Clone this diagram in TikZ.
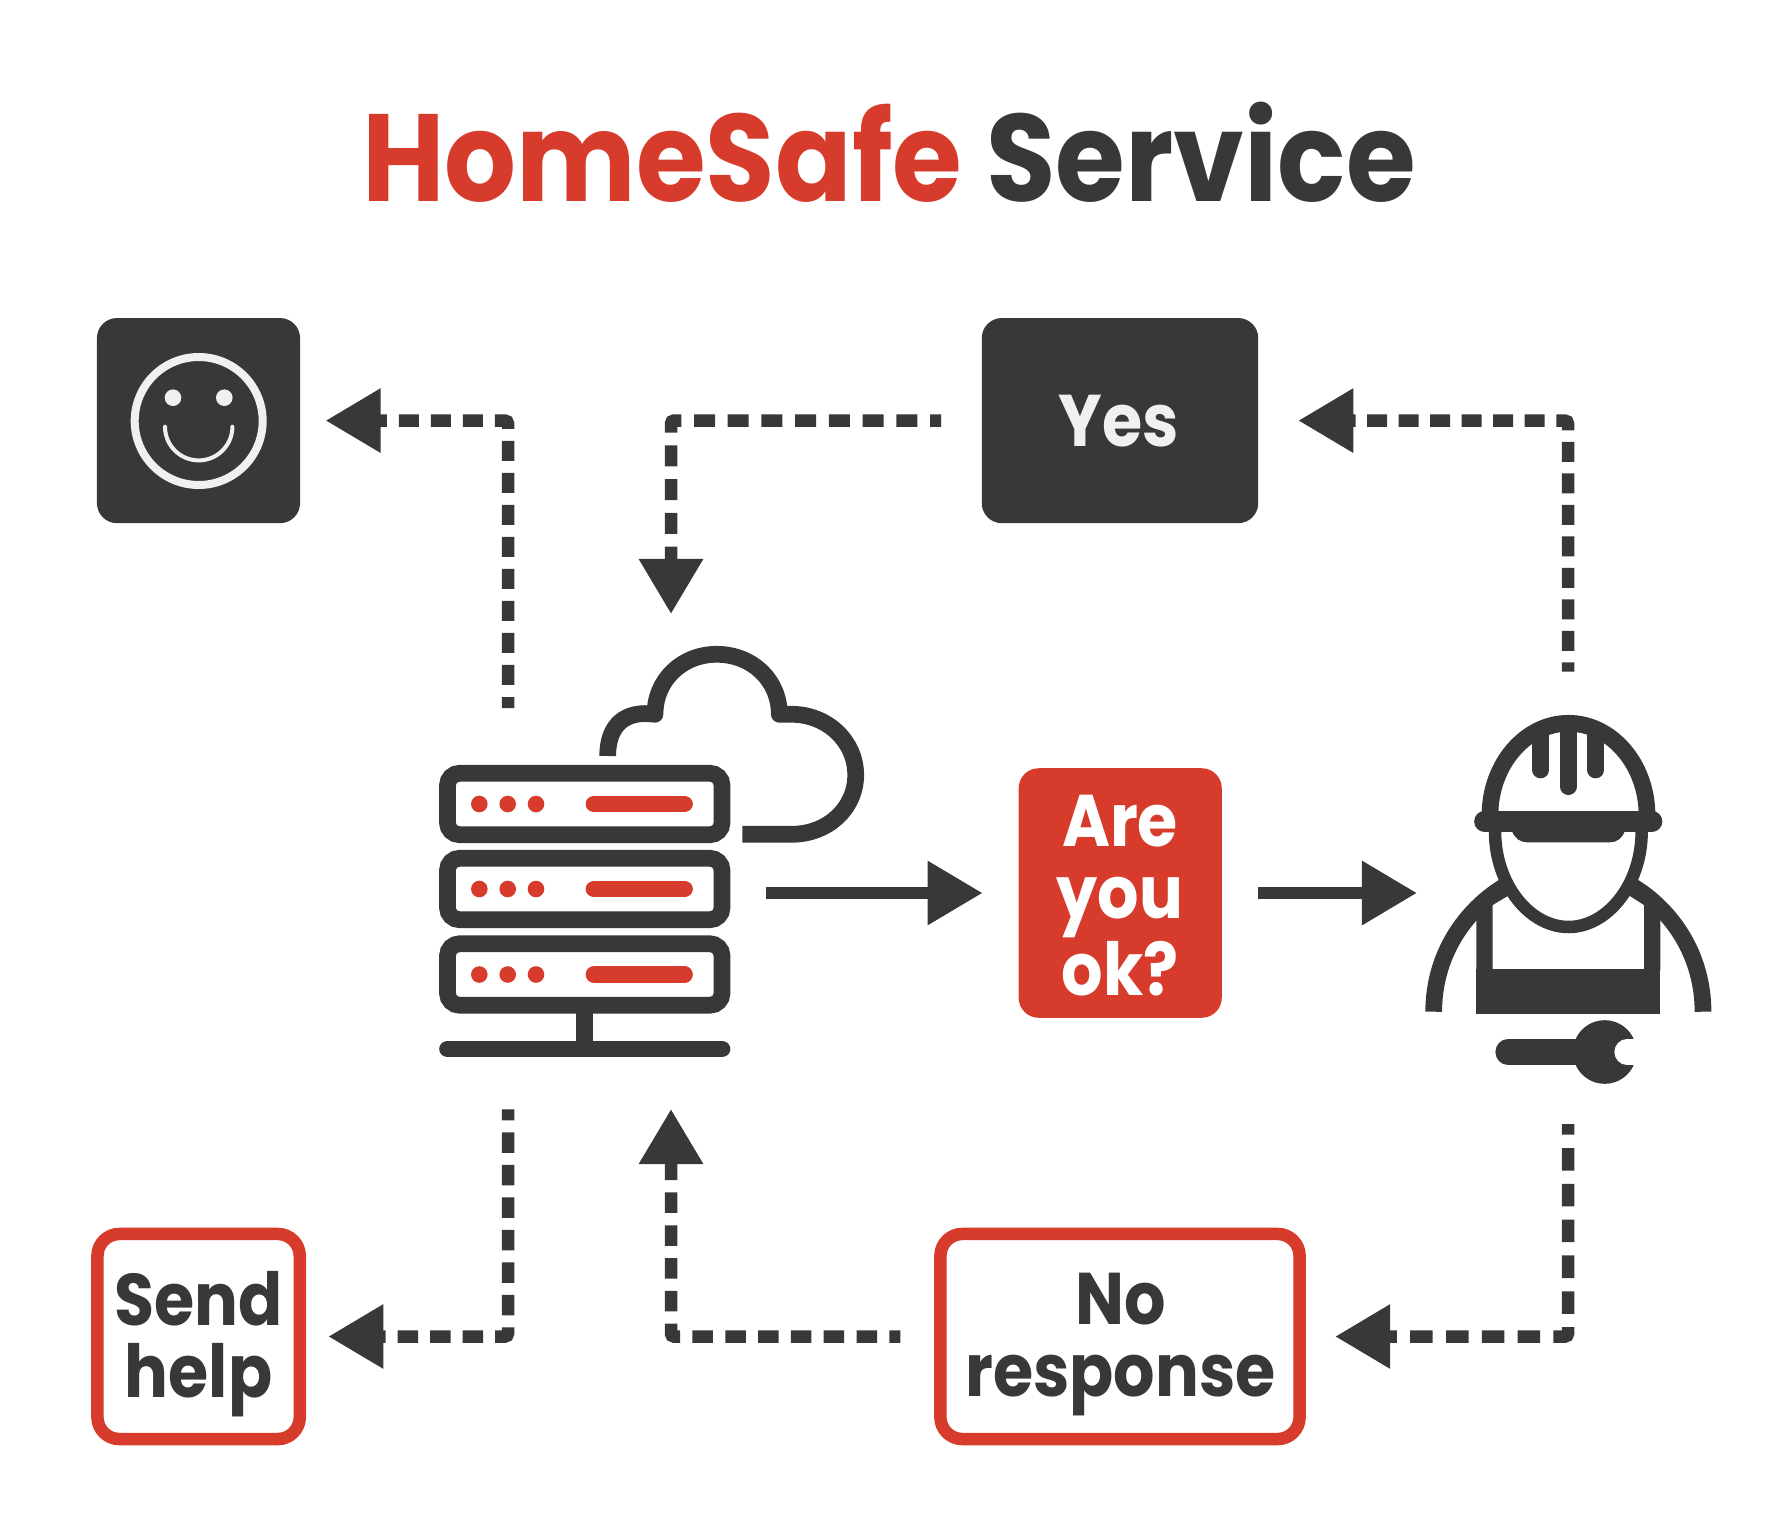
\documentclass[tikz,border=0pt]{standalone}
\usepackage{fontspec}
\setmainfont{Poppins}
\newfontfamily\hstitle[FakeStretch=0.91]{Poppins}
\newfontfamily\hsbox[FakeStretch=0.89]{Poppins}
\usepackage{xcolor}
\usetikzlibrary{arrows.meta}
\definecolor{hsred}{HTML}{D73B2C}
\definecolor{hsdark}{HTML}{383838}
\definecolor{hslight}{HTML}{EFF0F2}
\tikzset{
	iconline/.style={draw=hsdark,line width=.167cm},
	darkbox/.style={fill=hsdark,rounded corners=.2cm,outer sep=0pt,inner sep=0pt},
	redbox/.style={fill=hsred,rounded corners=.2cm,outer sep=0pt,inner sep=0pt},
	linebox/.style={draw=hsred,line width=.125cm,rounded corners=.22cm,outer sep=0pt,inner sep=0pt},
	boxtext/.style={font=\fontsize{20.8}{20.5}\selectfont\hsbox\bfseries,align=center},
	flowline/.style={draw=hsdark,line width=.125cm,-{Triangle[length=.55cm,width=.61cm]}},
	dashline/.style={flowline,rounded corners=.03cm},
}
% one row of the server rack
\def\srvrow#1{
	\draw[iconline,fill=white,rounded corners=.12cm] (447.5,#1-30.7) rectangle (722,#1+30.7);
	\fill[hsred] (479.3,#1) circle (8.3);
	\fill[hsred] (507.7,#1) circle (8.3);
	\fill[hsred] (536,#1) circle (8.3);
	\draw[hsred,line width=.167cm,line cap=round] (594,#1)--(684.5,#1);
}

\begin{document}
\begin{tikzpicture}[x=.01cm,y=-.01cm]
	\useasboundingbox (0,0) rectangle (1772,1515);
	\node[font=\fontsize{35.3}{40}\selectfont\hstitle\bfseries] (title) at (889,152.5) {\textcolor{hsred}{HomeSafe} \textcolor{hsdark}{Service}};

	% boxes
	\node[darkbox,minimum width=2.03cm,minimum height=2.05cm] (smile) at (198.5,420.6) {};
	\node[darkbox,minimum width=2.763cm,minimum height=2.05cm] (yes) at (1120,420.6) {};
	\node[redbox,minimum width=2.03cm,minimum height=2.494cm] (areyou) at (1120.2,893) {};
	\node[linebox,minimum width=2.0225cm,minimum height=2.05cm] (send) at (198.6,1336.5) {};
	\node[linebox,minimum width=3.59cm,minimum height=2.05cm] (no) at (1120,1336.5) {};

	% box texts
	\node[boxtext,text=hslight] (yestext) at (1119,421.5) {Yes};
	\node[boxtext,text=white] (areyoutext) at (1120,896) {Are\\you\\ok?};
	\node[boxtext,text=hsdark] (sendtext) at (198.6,1344.5) {Send\\help};
	\node[boxtext,text=hsdark] (notext) at (1120.5,1344.5) {No\\response};

	% face
	\draw[hslight,line width=.08cm] (198.7,421) circle (64);
	\fill[hslight] (173,397.7) circle (8.3);
	\fill[hslight] (224.3,397.7) circle (8.3);
	\draw[hslight,line width=.04cm,line cap=round] (165,426.7) arc (180:0:33.7);

	% server
	\srvrow{804}
	\srvrow{889}
	\srvrow{974.5}
	\draw[iconline] (584.5,1000)--(584.5,1057);
	\draw[iconline,line cap=round] (447.5,1049)--(722,1049);

	% cloud
	\draw[iconline,line join=round] (607.7,756) .. controls (607.7,725) and (625,710) .. (655,714.3) .. controls (655,680) and (682,654.3) .. (716.7,654.3) .. controls (752,654.3) and (779.3,680) .. (779.3,714.3)--(791.7,714.3) .. controls (827,714.3) and (855.7,741) .. (855.7,775) .. controls (855.7,809) and (827,834.3) .. (791.7,834.3)--(742.3,834.3);

	% worker
	\draw[iconline] (1490,815) .. controls (1490,765) and (1525,723.3) .. (1568.5,723.3) .. controls (1612,723.3) and (1647,765) .. (1647,815);
	\draw[hsdark,line width=.207cm,line cap=round] (1484.5,821.3)--(1652,821.3);
	\fill[hsdark] (1511.7,830) .. controls (1514,838) and (1520,842.3) .. (1527,842.3)--(1610,842.3) .. controls (1617,842.3) and (1623,838) .. (1625,830)--cycle;
	\draw[iconline,line cap=round] (1568.3,730)--(1568.3,786.7);
	\draw[iconline,line cap=round] (1540.7,735)--(1540.7,770);
	\draw[iconline,line cap=round] (1595.7,735)--(1595.7,770);
	\draw[hsdark,line width=.125cm] (1495,831) .. controls (1495,885) and (1530,927) .. (1568.5,927) .. controls (1607,927) and (1641.7,885) .. (1641.7,831);
	\draw[iconline] (1433.7,1011.7) .. controls (1433.7,955) and (1465,910) .. (1505,886);
	\draw[iconline] (1703,1011.7) .. controls (1703,955) and (1672,910) .. (1632,886);
	\fill[hsdark] (1476.3,969) rectangle (1660.3,1014.3);
	\fill[hsdark] (1476.3,970)--(1492.7,970)--(1492.7,905)--(1508.3,895.7)--(1500,880.7)--(1476.3,920.7)--cycle;
	\fill[hsdark] (1660.3,970)--(1644,970)--(1644,905)--(1629.3,895.7)--(1636.7,880.7)--(1660.3,920.7)--cycle;
	\draw[hsdark,line width=.253cm,line cap=round] (1508,1052)--(1590,1052);
	\fill[hsdark] (1604.7,1052) circle (31.8);
	\draw[white,line width=.253cm,line cap=round] (1627,1052)--(1650,1052);

	% ends of the connectors
	\coordinate (srvOutTop) at (508,708);
	\coordinate (srvInTop) at (671,614);
	\coordinate (srvOutBottom) at (508,1109.3);
	\coordinate (srvInBottom) at (671,1109);
	\coordinate (srvOutRight) at (766,893);
	\coordinate (workerIn) at (1417,893);
	\coordinate (workerTop) at (1568,671.7);
	\coordinate (workerBottom) at (1568,1124);

	% connectors
	\draw[flowline,shorten >=.36cm] (srvOutRight)--(areyou);
	\draw[flowline,shorten <=.36cm] (areyou)--(workerIn);
	\draw[dashline,dash pattern=on .20cm off .12cm,dash phase=.09cm,shorten >=.255cm] (srvOutTop) |- (smile);
	\draw[dashline,dash pattern=on .21cm off .127cm,dash phase=.10cm,shorten <=.407cm] (yes) -| (srvInTop);
	\draw[dashline,dash pattern=on .20cm off .115cm,dash phase=.107cm,shorten >=.40cm] (workerTop) |- (yes);
	\draw[dashline,dash pattern=on .205cm off .12cm,dash phase=.095cm,shorten >=.285cm] (srvOutBottom) |- (send);
	\draw[dashline,dash pattern=on .205cm off .123cm,dash phase=.095cm,shorten <=.40cm] (no) -| (srvInBottom);
	\draw[dashline,dash pattern=on .225cm off .133cm,dash phase=.118cm,shorten >=.355cm] (workerBottom) |- (no);
\end{tikzpicture}
\end{document}
